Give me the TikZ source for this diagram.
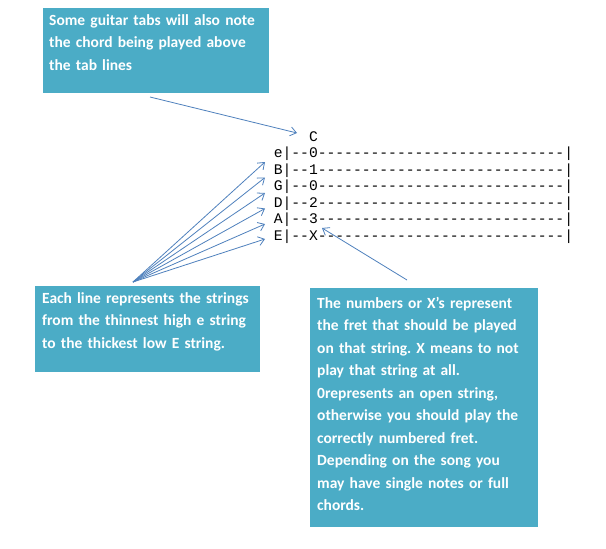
\documentclass[tikz,border=0pt]{standalone}
\usepackage{fontspec}
\setmainfont{Carlito}
\setmonofont{Liberation Mono}
\usetikzlibrary{arrows.meta,shadows}
\definecolor{boxteal}{HTML}{4BACC6}
\definecolor{arrowblue}{HTML}{4F81BD}
\begin{document}
\frenchspacing
\begin{tikzpicture}[x=1pt,y=-1pt,
  tbox/.style={fill=boxteal, draw=white, line width=2.5pt, anchor=north west, inner sep=0pt,
    drop shadow={shadow xshift=1.5pt, shadow yshift=-2pt, opacity=0.25, fill=black}},
  txt/.style={anchor=base west, inner sep=0pt, text width=245pt, align=left, text=white,
    font=\fontsize{15.5}{22.5}\selectfont\bfseries},
  tabrow/.style={anchor=base west, inner sep=0pt, text=black,
    font=\ttfamily\fontsize{14.67}{16}\selectfont},
  conn/.style={draw=arrowblue, line width=0.8pt, -{Straight Barb[length=6pt,width=9pt]}}]
\useasboundingbox[fill=white] (0,0) rectangle (606,549);

% boxes
\node[tbox, minimum width=229pt, minimum height=88pt] (box1) at (40,5) {};
\node[tbox, minimum width=228pt, minimum height=89pt] (box2) at (32,283) {};
\node[tbox, minimum width=231pt, minimum height=242pt] (box3) at (307,285) {};

\node[txt] (t1) at (49,25) {Some guitar tabs will also note\\the chord being played above\\the tab lines};
\node[txt] (t2) at (42,303) {Each line represents the strings\\from the thinnest high e string\\to the thickest low E string.};
\node[txt] (t3) at (317,308) {The numbers or X’s represent\\the fret that should be played\\on that string. X means to not\\play that string at all.\\0represents an open string,\\otherwise you should play the\\correctly numbered fret.\\Depending on the song you\\may have single notes or full\\chords.};

% tab
\node[tabrow] (chord) at (308.8,141) {C};
\node[tabrow] (re) at (273.6,157.5) {e|--0----------------------------|};
\node[tabrow] (rB) at (273.6,174.1) {B|--1----------------------------|};
\node[tabrow] (rG) at (273.6,190.7) {G|--0----------------------------|};
\node[tabrow] (rD) at (273.6,207.3) {D|--2----------------------------|};
\node[tabrow] (rA) at (273.6,223.9) {A|--3----------------------------|};
\node[tabrow] (rE) at (273.6,240.5) {E|--X----------------------------|};

% connectors
\coordinate (s1) at (150,97);
\coordinate (e1) at (297,133);
\draw[conn] (s1) -- (e1);

\coordinate (s2) at (133,282);
\coordinate (p1) at (265,162);
\coordinate (p2) at (265,177.5);
\coordinate (p3) at (265,193);
\coordinate (p4) at (265,208.5);
\coordinate (p5) at (265,224);
\coordinate (p6) at (265,239);
\foreach \p in {p1,p2,p3,p4,p5,p6} \draw[conn] (s2) -- (\p);

\coordinate (s3) at (407,280);
\coordinate (e3) at (322,228);
\draw[conn] (s3) -- (e3);
\end{tikzpicture}
\end{document}
